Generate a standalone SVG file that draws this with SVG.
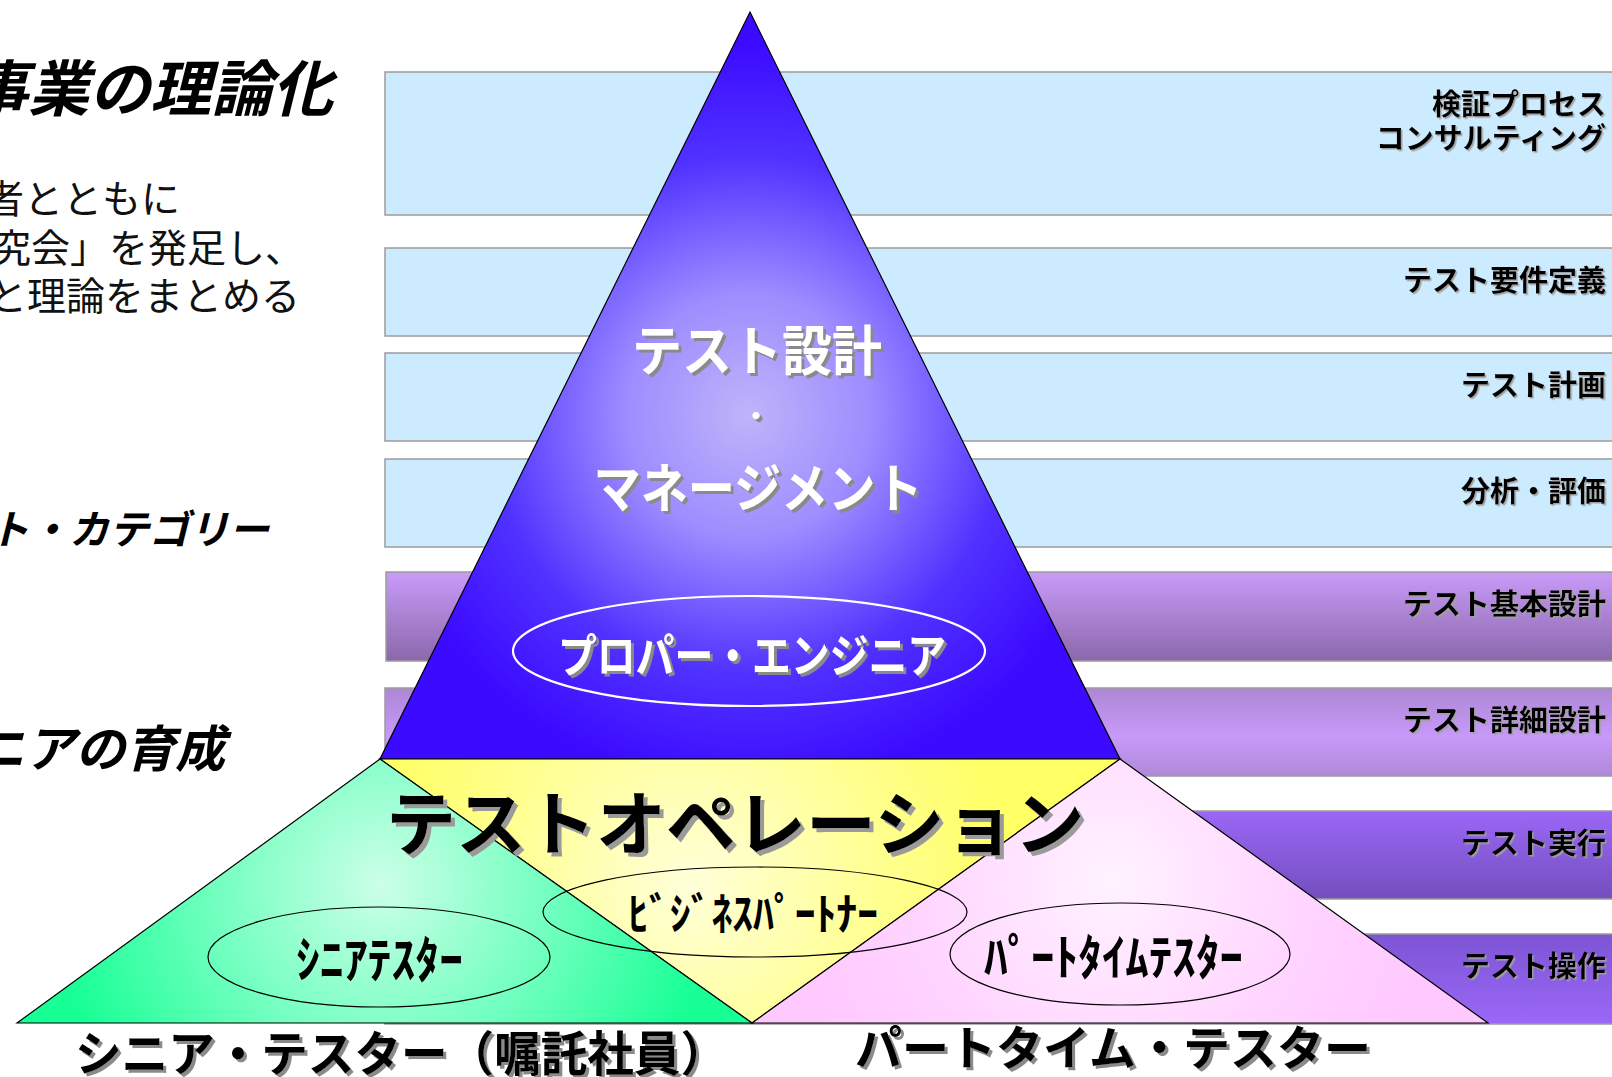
<svg xmlns="http://www.w3.org/2000/svg" width="1612" height="1077" viewBox="0 0 1612 1077">
<defs>
<style>
text{font-family:"Noto Sans CJK JP","Noto Sans CJK SC",sans-serif;}
.band{stroke:#9c9c9c;stroke-width:1.5;}
.blue{fill:#CCEBFF;}
.blab{font-size:29px;font-weight:bold;fill:#000;text-anchor:end;}
.head{font-weight:bold;font-style:italic;fill:#000;}
.body{font-size:39px;fill:#111;}
.tri{stroke:#000;stroke-width:1.2;}
.wt{fill:#fff;font-weight:bold;text-anchor:middle;}
.bk{fill:#000;font-weight:bold;}
.ell{fill:none;stroke:#000;stroke-width:1.2;}
</style>
<linearGradient id="g5" x1="0" y1="0" x2="0" y2="1"><stop offset="0" stop-color="#C99BF9"/><stop offset="1" stop-color="#8B68AB"/></linearGradient>
<linearGradient id="g6" x1="0" y1="0" x2="0" y2="1"><stop offset="0" stop-color="#AD87D5"/><stop offset="0.55" stop-color="#C799F9"/><stop offset="1" stop-color="#AF89D8"/></linearGradient>
<linearGradient id="g7" x1="0" y1="0" x2="0" y2="1"><stop offset="0" stop-color="#9B67F6"/><stop offset="1" stop-color="#734FBE"/></linearGradient>
<linearGradient id="g8" x1="0" y1="0" x2="0" y2="1"><stop offset="0" stop-color="#7D55D4"/><stop offset="1" stop-color="#9A67F7"/></linearGradient>
<radialGradient id="gBlue" gradientUnits="userSpaceOnUse" cx="748" cy="415" r="370"><stop offset="0" stop-color="#BFB4F9"/><stop offset="0.33" stop-color="#9D8DFF"/><stop offset="0.7" stop-color="#5032FF"/><stop offset="1" stop-color="#3C0BFF"/></radialGradient>
<radialGradient id="gGreen" gradientUnits="userSpaceOnUse" cx="382" cy="885" r="330"><stop offset="0" stop-color="#CCFFE8"/><stop offset="0.5" stop-color="#74FFC0"/><stop offset="1" stop-color="#17FF95"/></radialGradient>
<radialGradient id="gYellow" gradientUnits="userSpaceOnUse" cx="690" cy="885" r="320"><stop offset="0" stop-color="#FFFFDA"/><stop offset="0.6" stop-color="#FFFF90"/><stop offset="1" stop-color="#FFFF66"/></radialGradient>
<radialGradient id="gPink" gradientUnits="userSpaceOnUse" cx="1112" cy="880" r="330"><stop offset="0" stop-color="#FFF3FF"/><stop offset="0.6" stop-color="#FFD4FF"/><stop offset="1" stop-color="#FFC8FF"/></radialGradient>
<filter id="sh3" x="-10%" y="-20%" width="130%" height="160%"><feDropShadow dx="3" dy="3" stdDeviation="0" flood-color="#8a8a8a"/></filter>
<filter id="sh4" x="-10%" y="-20%" width="130%" height="160%"><feDropShadow dx="4" dy="4" stdDeviation="0" flood-color="#9a9a9a"/></filter>
<filter id="sh1" x="-10%" y="-20%" width="130%" height="160%"><feDropShadow dx="1.5" dy="1.5" stdDeviation="0" flood-color="#a0a0a0"/></filter>
</defs>
<rect width="1612" height="1077" fill="#fff"/>

<g id="left-texts">
<text class="head" x="-33" y="111" font-size="61">事業の理論化</text>
<text class="body" x="-15" y="213">者とともに</text>
<text class="body" x="-8" y="262">究会」を発足し、</text>
<text class="body" x="-12" y="310">と理論をまとめる</text>
<text class="head" x="-11" y="544" font-size="40">ト・カテゴリー</text>
<text class="head" x="-25" y="767" font-size="50">ニアの育成</text>
</g>

<g id="band-consulting"><rect class="band blue" x="385" y="72" width="1240" height="143"/><text class="blab" filter="url(#sh1)" x="1606" y="115">検証プロセス</text><text class="blab" filter="url(#sh1)" x="1606" y="149">コンサルティング</text></g>
<g id="band-requirements"><rect class="band blue" x="385" y="248" width="1240" height="88"/><text class="blab" filter="url(#sh1)" x="1606" y="291">テスト要件定義</text></g>
<g id="band-plan"><rect class="band blue" x="385" y="353" width="1240" height="88"/><text class="blab" filter="url(#sh1)" x="1606" y="396">テスト計画</text></g>
<g id="band-analysis"><rect class="band blue" x="385" y="459" width="1240" height="88"/><text class="blab" filter="url(#sh1)" x="1606" y="502">分析・評価</text></g>
<g id="band-basic-design"><rect class="band" fill="url(#g5)" x="386" y="572" width="1240" height="89"/><text class="blab" filter="url(#sh1)" x="1606" y="615">テスト基本設計</text></g>
<g id="band-detail-design"><rect class="band" fill="url(#g6)" x="385" y="688" width="1240" height="88"/><text class="blab" filter="url(#sh1)" x="1606" y="731">テスト詳細設計</text></g>
<g id="band-execution"><rect class="band" fill="url(#g7)" x="385" y="811" width="1240" height="88"/><text class="blab" filter="url(#sh1)" x="1606" y="854">テスト実行</text></g>
<g id="band-operation"><rect class="band" fill="url(#g8)" x="385" y="934" width="1240" height="90"/><text class="blab" filter="url(#sh1)" x="1606" y="977">テスト操作</text></g>

<g id="proper-engineer">
<polygon class="tri" fill="url(#gBlue)" points="750,12 1120,759 380,759"/>
<text class="wt" filter="url(#sh3)" x="757" y="371" font-size="54" textLength="250" lengthAdjust="spacingAndGlyphs">テスト設計</text>
<text class="wt" filter="url(#sh3)" x="756" y="427" font-size="28">・</text>
<text class="wt" filter="url(#sh3)" x="758" y="508" font-size="53" textLength="329" lengthAdjust="spacingAndGlyphs">マネージメント</text>
<ellipse cx="749" cy="651" rx="236" ry="55" fill="none" stroke="#fff" stroke-width="2.2"/>
<text class="wt" filter="url(#sh3)" x="752" y="672" font-size="46" textLength="388" lengthAdjust="spacingAndGlyphs">プロパー・エンジニア</text>
</g>

<g id="business-partner">
<polygon class="tri" fill="url(#gYellow)" points="380,759 1120,759 752,1023"/>
</g>
<g id="senior-tester">
<polygon class="tri" fill="url(#gGreen)" points="380,759 752,1023 17,1023"/>
<ellipse class="ell" cx="379" cy="957" rx="171" ry="50"/>
<text class="bk" x="296" y="978" font-size="50" textLength="167" lengthAdjust="spacingAndGlyphs">ｼﾆｱﾃｽﾀｰ</text>
<text class="bk" filter="url(#sh3)" x="75" y="1071" font-size="48" textLength="652" lengthAdjust="spacingAndGlyphs">シニア・テスター（嘱託社員）</text>
</g>
<g id="parttime-tester">
<polygon class="tri" fill="url(#gPink)" points="1120,759 1488,1023 752,1023"/>
<ellipse class="ell" cx="1120" cy="954" rx="170" ry="51"/>
<text class="bk" x="984" y="975" font-size="49" textLength="259" lengthAdjust="spacingAndGlyphs">ﾊﾟｰﾄﾀｲﾑﾃｽﾀｰ</text>
<text class="bk" filter="url(#sh3)" x="855" y="1065" font-size="47">パートタイム・テスター</text>
</g>
<g id="test-operation">
<text class="bk" filter="url(#sh4)" x="386" y="850" font-size="70">テストオペレーション</text>
<ellipse class="ell" cx="755" cy="912" rx="212" ry="45"/>
<text class="bk" x="628" y="930" font-size="44" textLength="250" lengthAdjust="spacingAndGlyphs">ﾋﾞｼﾞﾈｽﾊﾟｰﾄﾅｰ</text>
</g>
</svg>
